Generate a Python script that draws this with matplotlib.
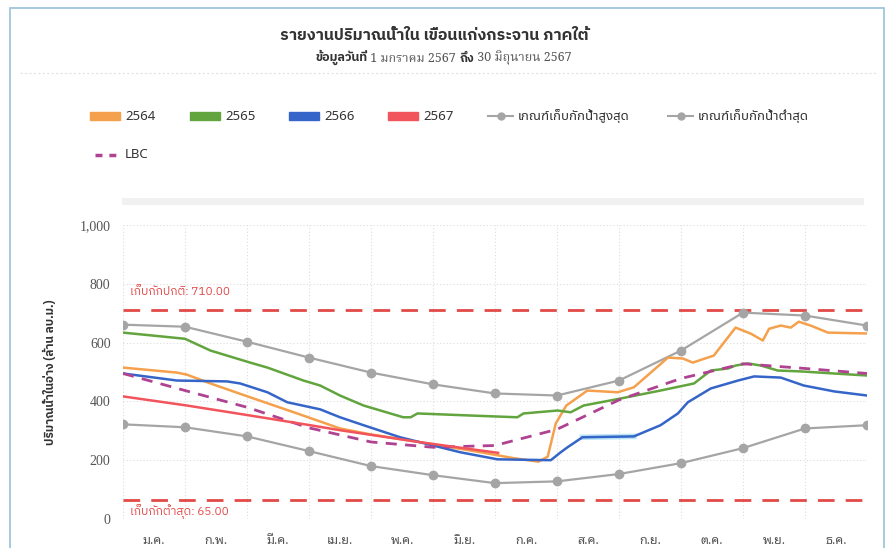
import matplotlib
matplotlib.use("Agg")
from matplotlib import pyplot as plt
from matplotlib.lines import Line2D
from matplotlib.patches import Rectangle

plt.rcParams['font.family'] = ['Noto Sans Thai', 'DejaVu Sans']
BOLD_FAM = ['IBM Plex Sans Thai', 'Noto Sans Thai', 'DejaVu Sans']
SERIF_FAM = ['Liberation Serif', 'Noto Serif Thai', 'DejaVu Serif']

# x is month position (0 = 1 ม.ค., 12 = 31 ธ.ค.)
months = ["ม.ค.", "ก.พ.", "มี.ค.", "เม.ย.", "พ.ค.", "มิ.ย.",
          "ก.ค.", "ส.ค.", "ก.ย.", "ต.ค.", "พ.ย.", "ธ.ค."]
month_pos = list(range(13))

# rule curves (start of each month + end of year)
rule_max = [661, 654, 603, 549, 498, 458, 427, 420, 471, 573, 702, 692, 658]
rule_min = [322, 312, 281, 231, 180, 149, 122, 128, 153, 190, 241, 308, 319]
lbc = [495, 437, 380, 310, 262, 244, 250, 305, 405, 478, 528, 512, 495]

x_2564 = [0.00, 0.87, 1.03, 1.41, 2.05, 2.81, 3.50, 3.99, 4.80, 5.77, 6.30, 6.70,
          6.85, 6.98, 7.15, 7.49, 7.98, 8.24, 8.79, 9.03, 9.19, 9.53, 9.88, 10.13,
          10.32, 10.42, 10.61, 10.77, 10.90, 11.09, 11.37, 12.00]
y_2564 = [515, 498, 491, 461, 414, 359, 308, 288, 261, 227, 207, 195,
          212, 325, 386, 437, 431, 448, 549, 546, 532, 556, 651, 630,
          607, 647, 658, 651, 671, 658, 634, 631]

x_2565 = [0.00, 1.00, 1.41, 2.05, 2.33, 2.91, 3.18, 3.50, 3.88, 4.52, 4.64, 4.75,
          5.60, 6.36, 6.46, 7.01, 7.22, 7.43, 8.03, 8.67, 9.21, 9.48, 9.76, 9.88,
          10.08, 10.29, 10.56, 10.93, 12.00]
y_2565 = [634, 613, 573, 532, 515, 471, 454, 420, 386, 346, 346, 359,
          352, 346, 359, 369, 363, 386, 410, 437, 461, 505, 512, 522,
          529, 522, 505, 502, 488]

x_2566 = [0.00, 0.87, 1.68, 1.89, 2.33, 2.65, 3.18, 3.50, 3.88, 4.47, 5.44, 6.04,
          6.90, 7.06, 7.17, 7.41, 8.24, 8.67, 8.95, 9.11, 9.48, 9.92, 10.18, 10.61,
          10.98, 11.47, 12.00]
y_2566 = [495, 471, 468, 461, 431, 397, 373, 346, 319, 278, 227, 203,
          200, 227, 244, 278, 281, 319, 359, 397, 444, 471, 485, 481,
          454, 434, 420]

x_2567 = [0.00, 1.03, 2.05, 3.02, 3.50, 4.80, 6.05]
y_2567 = [417, 386, 352, 319, 302, 261, 225]

normal_level = 710
min_level = 65

c_2564 = "#f5a04c"
c_2565 = "#62a43e"
c_2566 = "#3565c8"
c_2567 = "#f2545c"
c_rule = "#a5a5a5"
c_lbc = "#b04292"
c_limit = "#e24a48"

fig = plt.figure(figsize=(8.96, 5.48), dpi=100)
W, H = 896.0, 548.0

# outer frame + faint separators
fig.patches.append(Rectangle((10 / W, -0.05), 874 / W, 1.05 - 8 / H, transform=fig.transFigure,
                             fill=False, edgecolor="#9fc7dc", lw=1.3))
fig.add_artist(Line2D([20 / W, 876 / W], [1 - 73 / H, 1 - 73 / H], transform=fig.transFigure,
                      color="#e2e2e2", lw=0.8, ls=(0, (2, 2))))
fig.add_artist(Line2D([125 / W, 860 / W], [1 - 201 / H, 1 - 201 / H], transform=fig.transFigure,
                      color="#ececec", lw=5, alpha=0.7))

ax = fig.add_axes([123 / W, 29 / H, 744 / W, 294 / H])
ax.set_xlim(0, 12)
ax.set_ylim(0, 1000)
for s in ax.spines.values():
    s.set_visible(False)

ax.set_yticks([0, 200, 400, 600, 800, 1000])
ax.set_yticklabels(["0", "200", "400", "600", "800", "1,000"], family=SERIF_FAM)
ax.set_xticks(month_pos)
ax.set_xticklabels([])
ax.set_xticks([m + 0.5 for m in range(12)], minor=True)
ax.set_xticklabels(months, minor=True, family=["Noto Sans Thai Looped", "Noto Sans Thai"])
ax.tick_params(axis="y", length=0, pad=9, labelsize=10, labelcolor="#555555")
ax.tick_params(axis="x", which="both", length=0, pad=11, labelsize=9, labelcolor="#555555")
ax.grid(True, which="major", color="#dcdcdc", lw=0.8, ls=(0, (1, 2)))
ax.set_axisbelow(True)

ax.set_ylabel("ปริมาณน้ำในอ่าง (ล้าน ลบ.ม.)", fontsize=8.5, fontweight="bold", color="#333333",
              family=BOLD_FAM)
ax.yaxis.set_label_coords(-66 / 744, 0.5)

# limit lines
ax.axhline(normal_level, color=c_limit, lw=2, ls=(0, (6, 4)), zorder=2)
ax.axhline(min_level, color=c_limit, lw=2, ls=(0, (6, 4)), zorder=2)
ax.text(0.12, normal_level + 45, "เก็บกักปกติ: %.2f" % normal_level, color=c_limit, fontsize=8.5,
        va="bottom", ha="left", family=BOLD_FAM)
ax.text(0.12, min_level - 15, "เก็บกักต่ำสุด: %.2f" % min_level, color=c_limit, fontsize=8.5,
        va="top", ha="left", family=BOLD_FAM)

# rule curves
ax.plot(month_pos, rule_max, color=c_rule, lw=1.6, marker="o", ms=6, zorder=3)
ax.plot(month_pos, rule_min, color=c_rule, lw=1.6, marker="o", ms=6, zorder=3)

# yearly series
ax.plot(x_2564, y_2564, color=c_2564, lw=1.8, zorder=4)
ax.plot(x_2565, y_2565, color=c_2565, lw=1.8, zorder=4)
ax.plot(x_2566, y_2566, color=c_2566, lw=1.8, zorder=4)
ax.plot(x_2566[15:17], y_2566[15:17], color="#8fd3f2", lw=4, alpha=0.6, zorder=3)
ax.plot(x_2567, y_2567, color=c_2567, lw=1.8, zorder=5)
ax.plot(month_pos, lbc, color=c_lbc, lw=2, ls=(0, (4, 3)), zorder=4)

# titles
fig.text(434 / W, 1 - 35 / H, "รายงานปริมาณน้ำใน เขื่อนแก่งกระจาน ภาคใต้", ha="center", va="center",
         fontsize=11.5, fontweight="bold", color="#333333", family=BOLD_FAM)
parts = [("ข้อมูลวันที่", True), (" 1 มกราคม 2567 ", False), ("ถึง", True), (" 30 มิถุนายน 2567", False)]
prev = fig.text(315 / W, 1 - 57 / H, parts[0][0], ha="left", va="center", fontsize=9,
                fontweight="bold", color="#333333", family=BOLD_FAM)
for txt, bold in parts[1:]:
    prev = ax.annotate(txt, xy=(1, 0), xycoords=prev, va="bottom", ha="left", fontsize=9,
                       fontweight="bold" if bold else "normal",
                       color="#333333" if bold else "#555555",
                       family=BOLD_FAM if bold else ["Noto Serif Thai", "DejaVu Serif"],
                       annotation_clip=False)

# legend, drawn by hand to keep the two-row layout
leg_items = [("2564", c_2564, "patch", 90), ("2565", c_2565, "patch", 190),
             ("2566", c_2566, "patch", 289), ("2567", c_2567, "patch", 388),
             ("เกณฑ์เก็บกักน้ำสูงสุด", c_rule, "marker", 488),
             ("เกณฑ์เก็บกักน้ำต่ำสุด", c_rule, "marker", 668)]
row1 = 1 - 116 / H
for label, col, kind, x0 in leg_items:
    if kind == "patch":
        fig.patches.append(Rectangle((x0 / W, row1 - 4 / H), 30 / W, 8 / H, transform=fig.transFigure,
                                     color=col))
        fig.text((x0 + 35) / W, row1, label, va="center", ha="left", fontsize=9.5, color="#333333")
    else:
        fig.add_artist(Line2D([x0 / W, (x0 + 25) / W], [row1, row1], transform=fig.transFigure,
                              color=col, lw=1.5, zorder=5))
        fig.add_artist(Line2D([(x0 + 12.5) / W], [row1], transform=fig.transFigure,
                              color=col, marker="o", ms=5, zorder=5))
        fig.text((x0 + 30) / W, row1, label, va="center", ha="left", fontsize=9.5, color="#333333")
row2 = 1 - 155 / H
fig.add_artist(Line2D([95 / W, 120 / W], [row2, row2], transform=fig.transFigure,
                      color=c_lbc, lw=2.5, ls=(0, (2, 2))))
fig.text(125 / W, row2, "LBC", va="center", ha="left", fontsize=9.5, color="#333333")

fig.savefig("out.png", dpi=100)
